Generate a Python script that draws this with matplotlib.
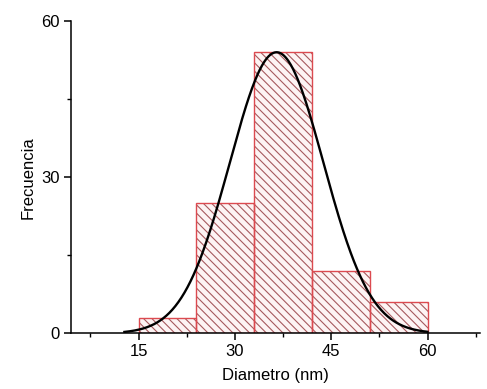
import numpy as np
import matplotlib
matplotlib.use('Agg')
import matplotlib.pyplot as plt
from matplotlib.ticker import MultipleLocator

# histograma de diametros
bin_edges = [15, 24, 33, 42, 51, 60]
counts = [3, 25, 54, 12, 6]

# ajuste gaussiano (parametros)
fit_mean = 36.5
fit_sigma = 7.3
fit_amp = 54.0
fit_range = (12.8, 60.0)

plt.rcParams['font.family'] = ['Liberation Sans', 'DejaVu Sans']
plt.rcParams['hatch.linewidth'] = 0.8

fig = plt.figure(figsize=(4.87, 3.89), dpi=100)
ax = fig.add_axes([0.146, 0.143, 0.84, 0.803])

widths = np.diff(bin_edges)
# rayado (color marron-rojizo) y luego el borde rojo
ax.bar(bin_edges[:-1], counts, width=widths, align='edge',
       facecolor='#fdf4f4', edgecolor='#a65a5e', linewidth=0,
       hatch='\\' * 4, zorder=2)
ax.bar(bin_edges[:-1], counts, width=widths, align='edge',
       fill=False, edgecolor='#dc4a50', linewidth=1.0, zorder=2.5)

xf = np.linspace(fit_range[0], fit_range[1], 400)
yf = fit_amp * np.exp(-(xf - fit_mean)**2 / (2 * fit_sigma**2))
ax.plot(xf, yf, color='black', lw=1.7, zorder=3)

ax.set_xlim(4.5, 68.2)
ax.set_ylim(0, 60)
ax.xaxis.set_major_locator(MultipleLocator(15))
ax.xaxis.set_minor_locator(MultipleLocator(7.5))
ax.yaxis.set_major_locator(MultipleLocator(30))
ax.yaxis.set_minor_locator(MultipleLocator(15))

for s in ['top', 'right']:
    ax.spines[s].set_visible(False)
for s in ['left', 'bottom']:
    ax.spines[s].set_linewidth(1.1)

ax.tick_params(which='major', direction='out', length=5, width=1.1,
               labelsize=12, pad=3)
ax.tick_params(which='minor', direction='out', length=3, width=1.0)

ax.set_xlabel('Diametro (nm)', fontsize=12, labelpad=6)
ax.set_ylabel('Frecuencia', fontsize=12, labelpad=4)

fig.savefig('out.png', dpi=100)
